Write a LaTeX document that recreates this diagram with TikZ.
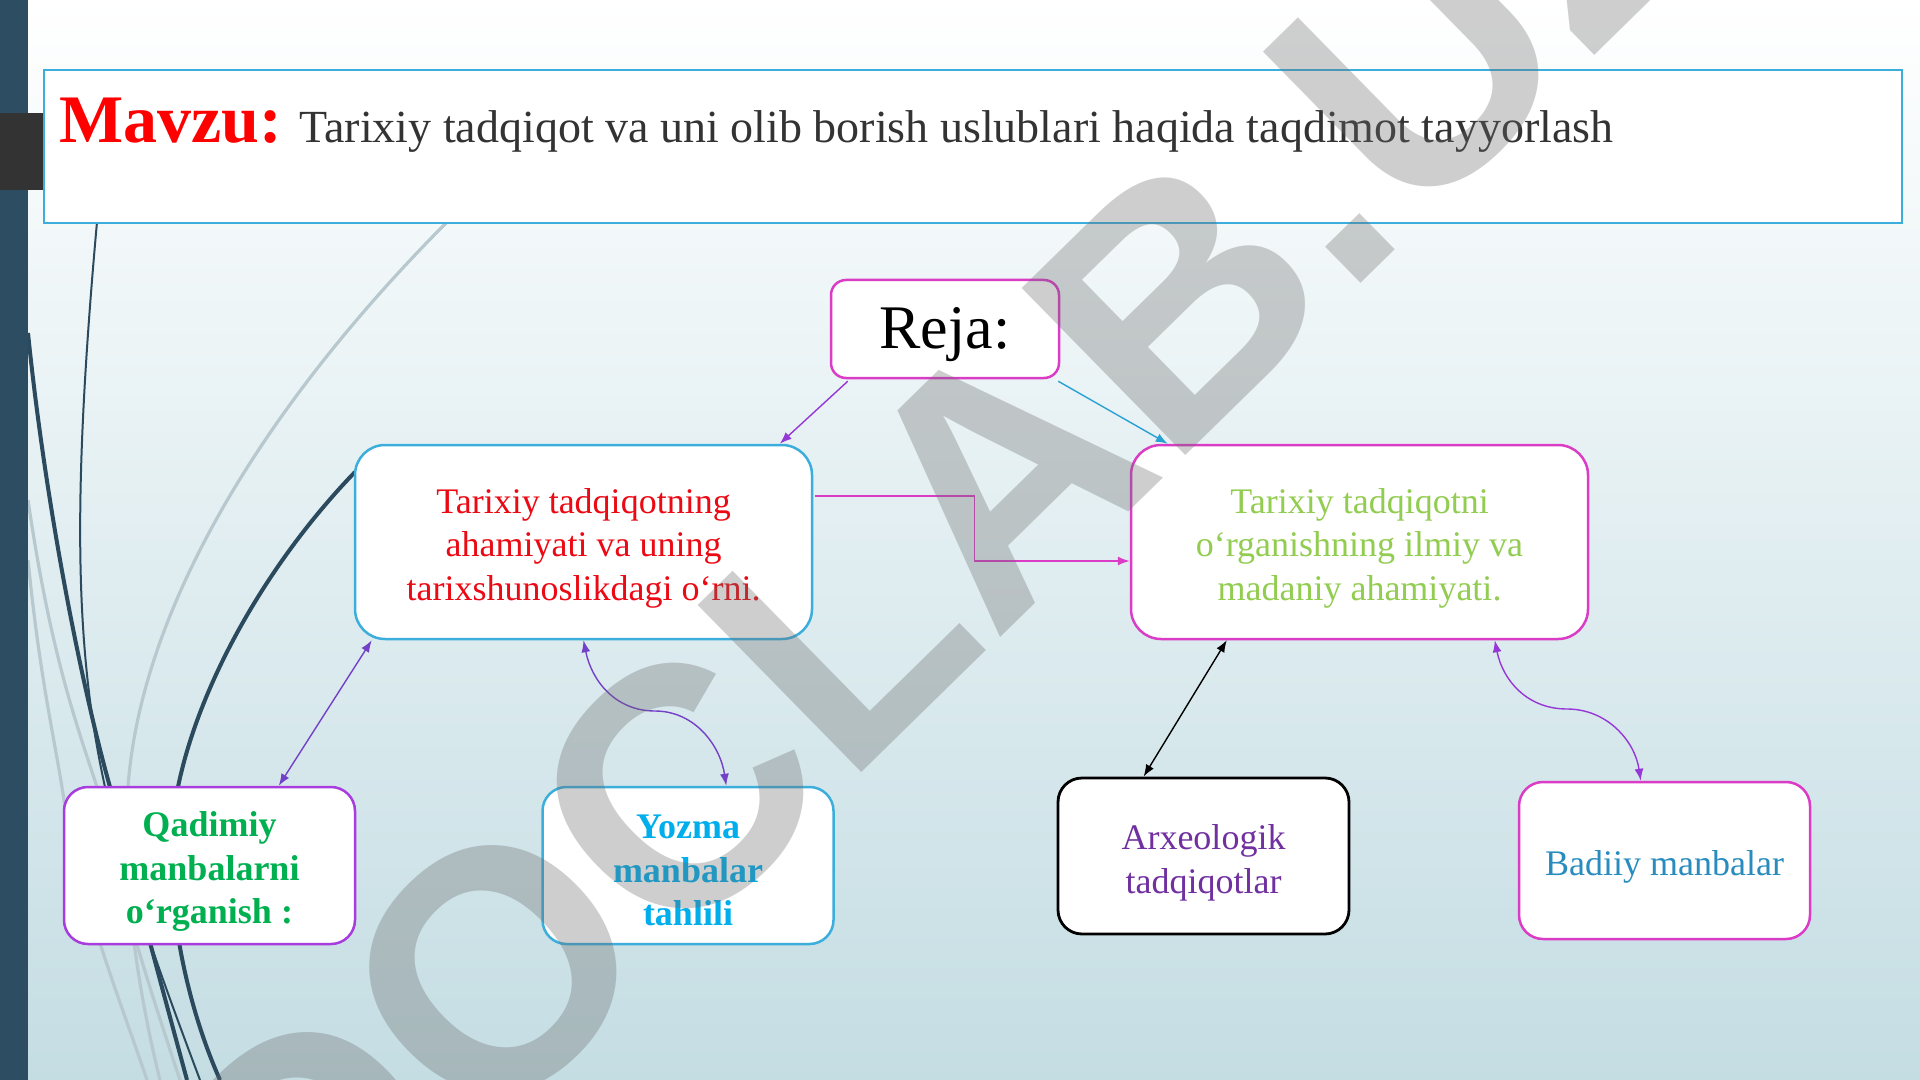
\documentclass[tikz,border=0pt]{standalone}
\usepackage{fontspec}
\setmainfont{Liberation Serif}
\newfontfamily\wmfont{Liberation Sans}
\usetikzlibrary{arrows.meta,calc}
\definecolor{barcol}{RGB}{45,78,98}
\definecolor{blockcol}{RGB}{51,51,51}
\definecolor{bgbot}{RGB}{196,221,227}
\definecolor{deco}{RGB}{43,74,94}
\definecolor{decogray}{RGB}{184,200,207}
\definecolor{cyanb}{RGB}{60,174,220}
\definecolor{magb}{RGB}{218,60,198}
\definecolor{purb}{RGB}{168,60,222}
\definecolor{titlegray}{RGB}{51,51,51}
\definecolor{redt}{RGB}{235,10,20}
\definecolor{greent}{RGB}{146,204,80}
\definecolor{greenb}{RGB}{0,176,80}
\definecolor{bluet}{RGB}{0,174,236}
\definecolor{purt}{RGB}{112,48,160}
\definecolor{tealt}{RGB}{40,140,190}
\definecolor{arrpur}{RGB}{150,55,215}
\definecolor{arrvio}{RGB}{115,65,200}
\definecolor{arrcyan}{RGB}{40,160,210}
\definecolor{wmcol}{RGB}{105,105,105}
\begin{document}
\begin{tikzpicture}[x=0.5pt,y=-0.5pt,
  box/.style={draw, fill=white, line width=1.25pt, rounded corners=12pt,
    inner sep=0pt, minimum width=145.5pt, minimum height=78.5pt},
  bigbox/.style={box, rounded corners=15pt, minimum width=228.5pt, minimum height=97pt},
  txt/.style={align=center, inner sep=0pt, font=\fontsize{18}{21.75}\selectfont},
  btxt/.style={txt, font=\bfseries\fontsize{18}{21.75}\selectfont},
  conn/.style={line width=0.7pt},
  tip/.style={-{Latex[length=6pt,width=4.5pt]}},
  tips/.style={{Latex[length=6pt,width=4.5pt]}-{Latex[length=6pt,width=4.5pt]}},
  decod/.style={draw=deco},
  decog/.style={draw=decogray, line width=1.6pt}]
\useasboundingbox (0,0) rectangle (1920,1080);
\clip (0,0) rectangle (1920,1080);
% background
\shade[top color=white, bottom color=bgbot] (0,0) rectangle (1920,1080);
% decorative curves
\draw[decog] (447,222) .. controls (250,420) and (140,620) .. (128,787) .. controls (120,880) and (140,1000) .. (160,1080);
\draw[decog] (28,500) .. controls (50,650) and (75,720) .. (97,787) .. controls (115,880) and (150,990) .. (180,1080);
\draw[decog] (28,560) .. controls (40,680) and (55,740) .. (64,800) .. controls (80,900) and (120,1000) .. (147,1080);
\draw[decod, line width=1pt] (97,222) .. controls (72,500) and (75,650) .. (105,787) .. controls (125,880) and (170,1000) .. (200,1080);
\draw[decod, line width=2pt] (28,333) .. controls (45,500) and (80,680) .. (110,787) .. controls (130,870) and (160,980) .. (187,1080);
\draw[decod, line width=2pt] (355,472) .. controls (270,560) and (200,680) .. (178,787) .. controls (160,870) and (180,990) .. (220,1080);
% left bar and block
\fill[barcol] (0,0) rectangle (28,1080);
\fill[blockcol] (0,113) rectangle (44,190);
% title box
\node[draw=cyanb, fill=white, line width=1pt, minimum width=929pt, minimum height=76.5pt, inner sep=0pt] (title) at (973,146.5) {};
\node[anchor=base west, inner sep=0pt, text=red, font=\bfseries\fontsize{34}{40}\selectfont] (mavzu) at (59,143) {Mavzu:};
\node[anchor=base west, inner sep=0pt, text=titlegray, font=\fontsize{23}{28}\selectfont] (ttext) at (299,143) {Tarixiy tadqiqot va uni olib borish uslublari haqida taqdimot tayyorlash};
% boxes
\node[box, draw=magb, rounded corners=7.5pt, minimum width=114pt, minimum height=49pt] (reja) at (945,329) {};
\node[bigbox, draw=cyanb] (a) at (583.5,542) {};
\node[bigbox, draw=magb] (b) at (1359.5,542) {};
\node[box, draw=purb] (c) at (209.5,865.5) {};
\node[box, draw=cyanb] (d) at (688,865.5) {};
\node[box, draw=black, line width=1.4pt, minimum height=78pt] (e) at (1203.5,856) {};
\node[box, draw=magb] (f) at (1664.5,860.5) {};
% texts
\node[txt, font=\fontsize{31}{36}\selectfont] (reja-t) at ($(reja.center)+(0,6)$) {Reja:};
\node[txt, text=redt] (a-t) at ($(a.center)+(0,6)$) {Tarixiy tadqiqotning\\ahamiyati va uning\\tarixshunoslikdagi o‘rni.};
\node[txt, text=greent] (b-t) at ($(b.center)+(0,6)$) {Tarixiy tadqiqotni\\o‘rganishning ilmiy va\\madaniy ahamiyati.};
\node[btxt, text=greenb] (c-t) at ($(c.center)+(0,6)$) {Qadimiy\\manbalarni\\o‘rganish :};
\node[btxt, text=bluet] (d-t) at ($(d.center)+(0,5)$) {Yozma\\manbalar\\tahlili};
\node[txt, text=purt] (e-t) at ($(e.center)+(0,7)$) {Arxeologik\\tadqiqotlar};
\node[txt, text=tealt] (f-t) at ($(f.center)+(0,6)$) {Badiiy manbalar};
% connectors
\draw[conn, tip, draw=arrpur] ($(reja.south west)+(18,2)$) -- ($(a.north west)+(426,0)$);
\draw[conn, tip, draw=arrcyan] ($(reja.south east)+(-2,2)$) -- ($(b.north west)+(38,0)$);
\draw[conn, tip, draw=magb] ($(a.east)+(2,-46)$) -- ++(159,0) |- ($(b.west)+(0,19)$);
\draw[conn, tips, draw=arrvio] ($(c.north west)+(216,0)$) -- ($(a.south west)+(18,0)$);
\draw[conn, tips, draw=arrvio] (a.south) .. controls +(8,40) and +(-40,0) .. (655,711) .. controls +(40,0) and +(-6,-40) .. ($(d.north west)+(185,0)$);
\draw[conn, tips, draw=black] ($(b.south west)+(97,0)$) -- ($(e.north west)+(87,0)$);
\draw[conn, tips, draw=arrpur] ($(b.south west)+(365,0)$) .. controls +(8,40) and +(-40,0) .. (1567,709) .. controls +(40,0) and +(-6,-40) .. ($(f.north west)+(123,0)$);
% watermark
\node[rotate=44.4, anchor=base, inner sep=0pt, text=wmcol, text opacity=0.32, font=\wmfont\bfseries\fontsize{170}{170}\selectfont] (wm) at (1021,617) {DOCLAB.UZ};
\end{tikzpicture}
\end{document}
